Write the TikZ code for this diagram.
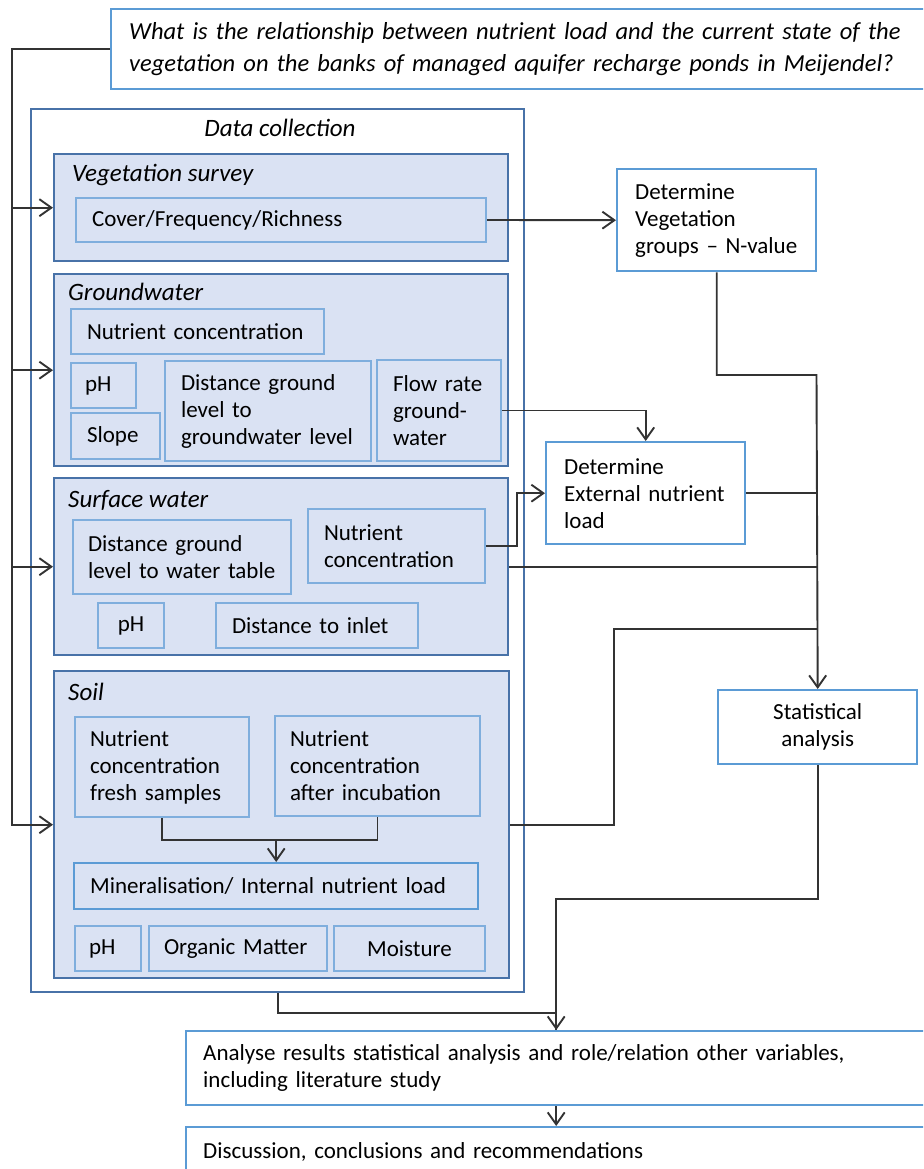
\documentclass[tikz,border=0pt]{standalone}
\usepackage{fontspec}
\setmainfont{Carlito}
\usetikzlibrary{arrows.meta}
\definecolor{panel}{HTML}{DAE2F3}
\definecolor{groupedge}{HTML}{4872A8}
\definecolor{boxedge}{HTML}{7FAEDD}
\definecolor{outeredge}{HTML}{5B9BD5}
\definecolor{linecol}{HTML}{333333}
\newcommand\bodyfont{\fontsize{23}{27}\selectfont}

\begin{document}
\begin{tikzpicture}[x=1pt,y=-1pt,font=\bodyfont,
  >={Straight Barb[length=12pt,width=17pt]},
  wh/.style 2 args={minimum width=#1,minimum height=#2,text width=#1-32},
  group/.style={draw=groupedge,fill=panel,line width=2.4pt,anchor=north west,inner sep=0},
  small/.style={draw=boxedge,fill=panel,line width=2pt,anchor=north west,inner sep=0,inner xsep=16,align=left},
  outer/.style={draw=outeredge,fill=white,line width=2.4pt,anchor=north west,inner sep=0,inner xsep=16,align=left},
  title/.style={font=\fontsize{25}{30}\selectfont\itshape,anchor=west,inner sep=0},
  conn/.style={draw=linecol,line width=1.9pt}]
  \clip (0,0) rectangle (923,1169);
  \node[outer,wh={825}{80},inner xsep=18,text width=789,
    font=\fontsize{24.5}{32}\selectfont\itshape] (q) at (110,8)
    {What is the relationship between nutrient load and the current state of the\\
     vegetation on the banks of managed aquifer recharge ponds in Meijendel?};
  \node[outer,draw=groupedge,minimum width=493,minimum height=883] (dc) at (30,108) {};
  \node[title,anchor=center] (dctitle) at (280,128) {Data collection};

  \node[group,minimum width=454,minimum height=107] (veg) at (53,153) {};
  \node[title] (vegtitle) at (72,175) {Vegetation survey};
  \node[small,wh={410}{44}] (cover) at (75,197) {Cover/Frequency/Richness};

  \node[group,minimum width=454,minimum height=192] (gw) at (53,273) {};
  \node[title] (gwtitle) at (68,292) {Groundwater};
  \node[small,wh={253}{45}] (gnut) at (70,308) {Nutrient concentration};
  \node[small,wh={65}{45},inner xsep=14,text width=37] (gph) at (70,362) {pH};
  \node[small,wh={89}{46}] (slope) at (70,412) {Slope};
  \node[small,wh={206}{100}] (gdist) at (164,360)
    {Distance ground\\level to\\groundwater level};
  \node[small,wh={124}{101}] (flow) at (376,359)
    {Flow rate\\ground-\\water};

  \node[group,minimum width=454,minimum height=177] (sw) at (53,477) {};
  \node[title] (swtitle) at (68,500) {Surface water};
  \node[small,wh={218}{74},inner xsep=15,text width=188] (sdist) at (72,519)
    {Distance ground\\\mbox{level to water table}};
  \node[small,wh={177}{74}] (snut) at (307,508)
    {Nutrient\\concentration};
  \node[small,wh={66}{45},align=center] (sph) at (97,602) {pH};
  \node[small,wh={202}{45}] (inlet) at (215,602) {Distance to inlet};

  \node[group,minimum width=455,minimum height=307] (soil) at (53,670) {};
  \node[title] (soiltitle) at (68,692) {Soil};
  \node[small,wh={174}{100},inner xsep=15,text width=144] (fresh) at (74,716)
    {Nutrient\\concentration\\fresh samples};
  \node[small,wh={205}{100},inner xsep=15,text width=175] (incub) at (274,715)
    {Nutrient\\concentration\\after incubation};
  \node[small,wh={404}{46},draw=outeredge,line width=2.4pt] (mineral) at (73,862)
    {Mineralisation/ Internal nutrient load};
  \node[small,wh={66}{45},inner xsep=14,text width=38] (oph) at (74,925) {pH};
  \node[small,wh={178}{45},inner xsep=15,text width=148] (organic) at (148,925) {Organic Matter};
  \node[small,wh={151}{45},align=center] (moist) at (333,925) {Moisture};

  \node[outer,wh={199}{102},inner xsep=18,text width=163] (detveg) at (616,168)
    {Determine\\Vegetation\\groups – N-value};
  \node[outer,wh={199}{102},inner xsep=18,text width=163] (ext) at (545,441)
    {Determine\\External nutrient\\load};
  \node[outer,wh={199}{74},align=center] (stat) at (717,689)
    {Statistical\\analysis};
  \node[outer,wh={740}{74},inner xsep=17,text width=706] (analyse) at (185,1030)
    {Analyse results statistical analysis and role/relation other variables,\\
     including literature study};
  \node[outer,wh={740}{50},inner xsep=17,text width=706] (discuss) at (185,1126)
    {Discussion, conclusions and recommendations};

  \coordinate (lft) at (12,48);
  \coordinate (bend) at (816.5,375);
  \coordinate (sbend) at (614,629);
  \coordinate (merge) at ([yshift=22pt]mineral.north);
  \draw[conn,->] (q.west) -| (lft |- soil.west) -- (soil.west);
  \foreach \g in {veg,gw,sw}
    \draw[conn,->] (lft |- \g.west) -- (\g.west);
  \draw[conn,->] (cover.east) -- (detveg.west);
  \draw[conn,->] (flow.east) -| (ext.north);
  \draw[conn,->] (snut.east) -- ++(31,0) |- (ext.west);
  \draw[conn,->] (detveg.south) |- (bend) -- (stat.north);
  \draw[conn] (ext.east) -- (ext.east -| stat.north);
  \draw[conn] (sw.east) -- (sw.east -| stat.north);
  \draw[conn] (soil.east) -| (sbend) -- (sbend -| stat.north);
  \draw[conn] (fresh.south) |- (merge) -| (incub.south);
  \draw[conn,->] (merge) -- (mineral.north);
  \draw[conn] (dc.south) -- ++(0,20) -| (analyse.north);
  \draw[conn,->] (stat.south) -- ++(0,134) -| (analyse.north);
  \draw[conn,->] (analyse.south) -- (discuss.north);
\end{tikzpicture}
\end{document}
